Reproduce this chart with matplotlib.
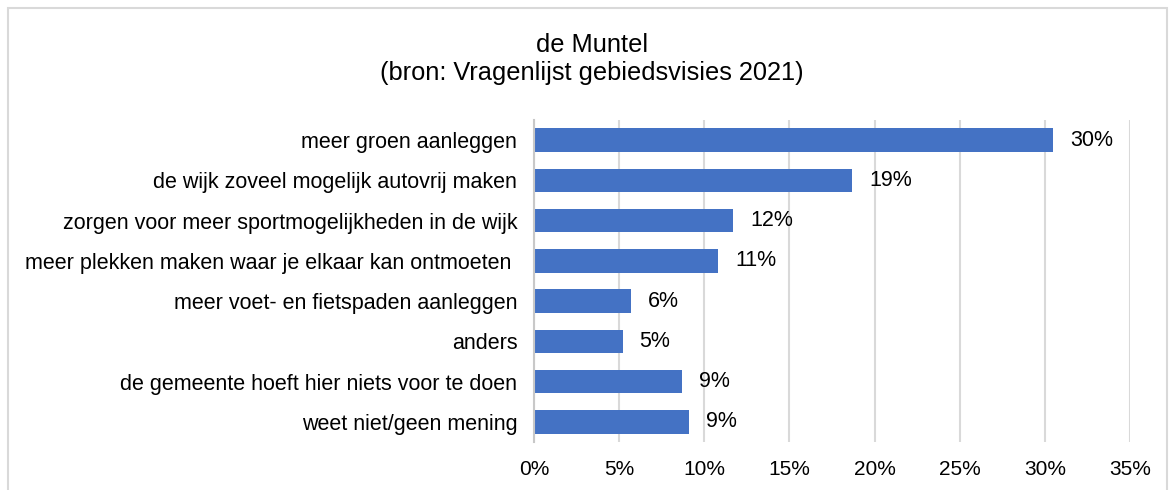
import matplotlib.pyplot as plt
from matplotlib.patches import Rectangle

plt.rcParams['font.family'] = ['Liberation Sans', 'DejaVu Sans']

categories = [
    "meer groen aanleggen",
    "de wijk zoveel mogelijk autovrij maken",
    "zorgen voor meer sportmogelijkheden in de wijk",
    "meer plekken maken waar je elkaar kan ontmoeten ",
    "meer voet- en fietspaden aanleggen",
    "anders",
    "de gemeente hoeft hier niets voor te doen",
    "weet niet/geen mening",
]
values = [30.5, 18.7, 11.7, 10.8, 5.7, 5.2, 8.7, 9.1]
value_labels = ["30%", "19%", "12%", "11%", "6%", "5%", "9%", "9%"]
xticks = [0, 5, 10, 15, 20, 25, 30, 35]
xtick_labels = ["0%", "5%", "10%", "15%", "20%", "25%", "30%", "35%"]

fig = plt.figure(figsize=(11.72, 4.9), dpi=100)
ax = fig.add_axes([534 / 1172, 1 - 442 / 490, (1130 - 534) / 1172, (442 - 120) / 490])

ypos = list(range(len(categories)))
ax.barh(ypos, values, height=0.58, color='#4472C4', zorder=3)
for y, v, lab in zip(ypos, values, value_labels):
    ax.text(v + 1.0, y, lab, va='center', ha='left', fontsize=15.5, color='#000000')

ax.set_ylim(len(categories) - 0.5, -0.5)
ax.set_xlim(0, 35)
ax.set_yticks(ypos)
ax.set_yticklabels(categories, fontsize=15.5)
ax.set_xticks(xticks)
ax.set_xticklabels(xtick_labels, fontsize=15)
ax.tick_params(axis='both', length=0)
ax.tick_params(axis='y', pad=12)
ax.tick_params(axis='x', pad=13)
ax.xaxis.grid(True, color='#d9d9d9', linewidth=1.5, zorder=0)
for s in ['top', 'right', 'bottom']:
    ax.spines[s].set_visible(False)
ax.spines['left'].set_color('#c8c8c8')
ax.spines['left'].set_linewidth(1.5)
ax.spines['left'].set_zorder(4)

fig.text(0.505, 1 - 45 / 490, "de Muntel", ha='center', va='center', fontsize=18.3)
fig.text(0.505, 1 - 73 / 490, "(bron: Vragenlijst gebiedsvisies 2021)", ha='center', va='center', fontsize=18.3)

# outer chart border (bottom edge is cut off in the reference)
border = Rectangle((8 / 1172, -0.2), 1159 / 1172, 1.2 - 8 / 490, transform=fig.transFigure,
                   fill=False, edgecolor='#d9d9d9', linewidth=1.5)
fig.patches.append(border)

fig.savefig('out.png', dpi=100)
